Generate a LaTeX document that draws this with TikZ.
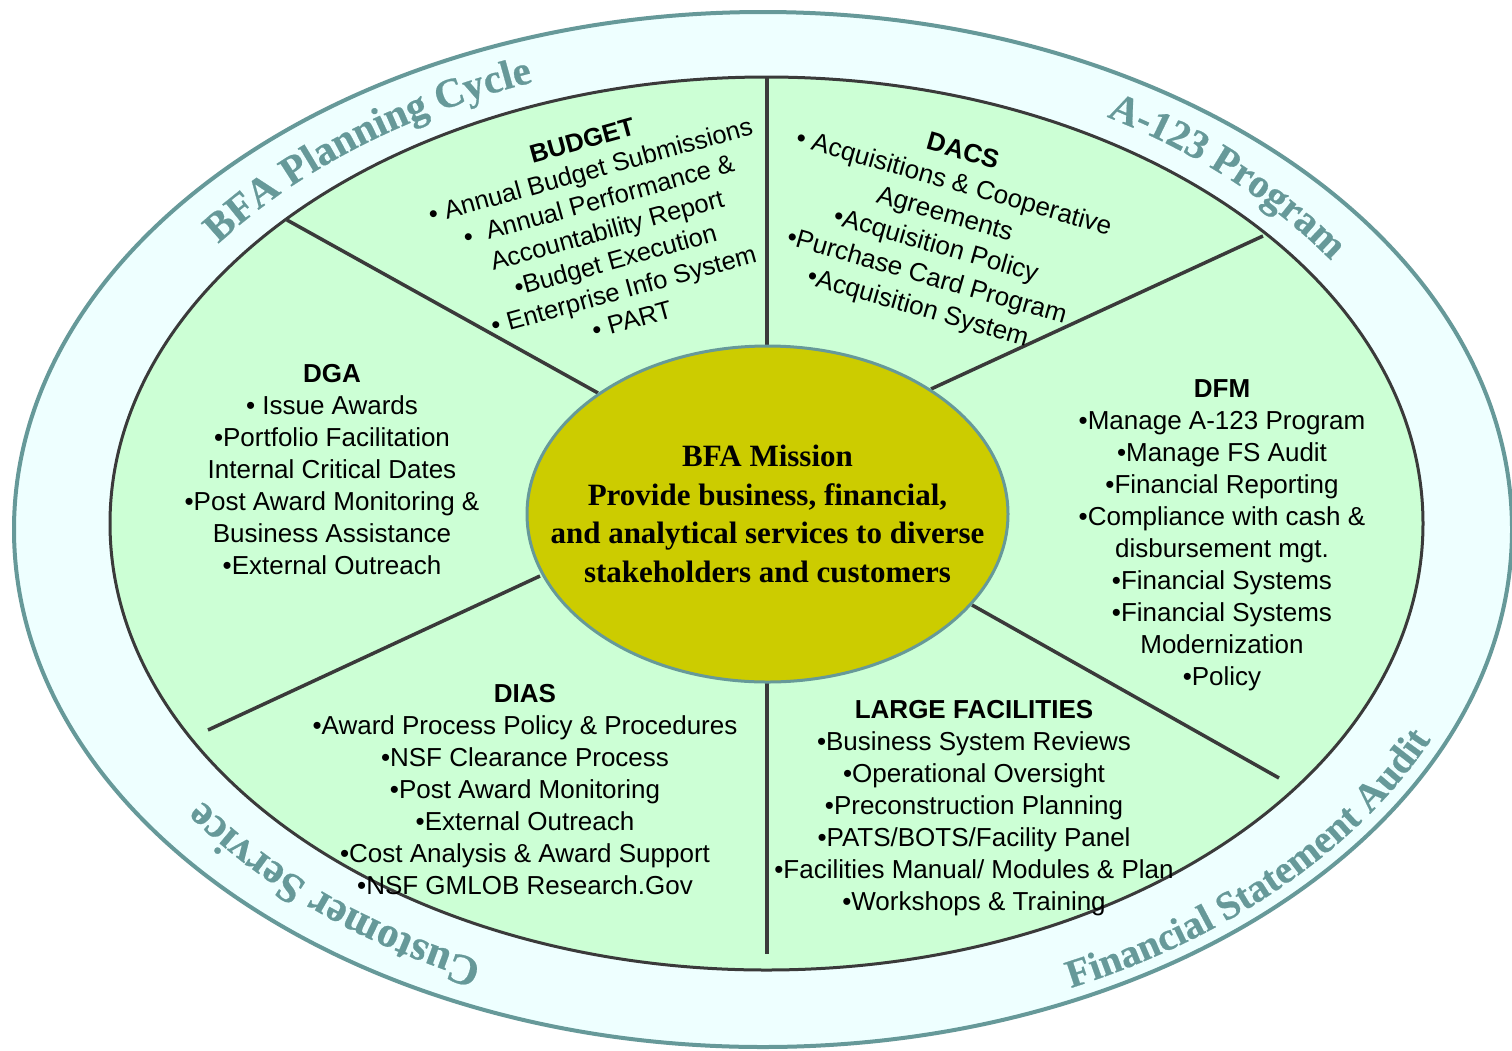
\documentclass[tikz,border=0pt]{standalone}
\usepackage{fontspec}
\setmainfont{Liberation Sans}
\newfontfamily\ringfont{Liberation Serif}[BoldFeatures={FakeBold=0.5}]
\newfontfamily\missionfont{Liberation Serif}
\usetikzlibrary{shapes.geometric,decorations.text}

\definecolor{ringteal}{HTML}{669999}
\definecolor{ringfill}{HTML}{EEFFFF}
\definecolor{sectorfill}{HTML}{CCFFD5}
\definecolor{rimgray}{HTML}{3A3A3A}
\definecolor{missionfill}{HTML}{CCCC00}

\tikzset{
  divider/.style={draw=rimgray, line width=3.5pt},
  unitblock/.style={align=center, inner sep=0pt, anchor=north,
    font=\fontsize{26}{32}\selectfont},
  ringlabel/.style 2 args={decorate, decoration={text along path, text align=center,
    text color=ringteal,
    text={|\ringfont\bfseries\fontsize{#1}{#1}\selectfont|#2}}},
}

\begin{document}
\begin{tikzpicture}[x=1pt,y=-1pt]
\useasboundingbox (0,0) rectangle (1512,1050);
\fill[white] (0,0) rectangle (1512,1050);
\clip (0,0) rectangle (1512,1050);

% outer ring and inner disc
\filldraw[fill=ringfill, draw=ringteal, line width=4pt]
  (763,529.5) ellipse [x radius=749, y radius=517.5];
\filldraw[fill=sectorfill, draw=rimgray, line width=3pt]
  (766.5,523.5) ellipse [x radius=656.5, y radius=446.5];

% sector dividers
\coordinate (d1a) at (287,220);  \coordinate (d1b) at (598,393);
\coordinate (d2a) at (1263,236); \coordinate (d2b) at (931,389);
\coordinate (d3a) at (1279,778); \coordinate (d3b) at (972,605);
\coordinate (d4a) at (208,730);  \coordinate (d4b) at (540,576);
\coordinate (v1a) at (767,77);   \coordinate (v1b) at (767,348);
\coordinate (v2a) at (767,682);  \coordinate (v2b) at (767,954);
\draw[divider] (d1a) -- (d1b);
\draw[divider] (d2a) -- (d2b);
\draw[divider] (d3a) -- (d3b);
\draw[divider] (d4a) -- (d4b);
\draw[divider] (v1a) -- (v1b);
\draw[divider] (v2a) -- (v2b);

% mission hub
\node[ellipse, draw=ringteal, fill=missionfill, line width=3pt,
      minimum width=481pt, minimum height=336pt, inner sep=0pt]
  (mission) at (767.5,514) {};
\node[font=\missionfont\bfseries\fontsize{31}{38.5}\selectfont,
      align=center, inner sep=0pt] (missiontext) at (mission.center)
  {BFA Mission\\Provide business, financial,\\and analytical services to diverse\\stakeholders and customers};

% ring labels
\path[shift={(766,524)}, ringlabel={41}{BFA Planning Cycle}]
  (200:682 and 470) arc[start angle=200, end angle=263, x radius=682, y radius=470];
\path[shift={(766,524)}, ringlabel={40.5}{A-123 Program}]
  (285:682 and 470) arc[start angle=285, end angle=345, x radius=682, y radius=470];
\path[shift={(766,524)}, ringlabel={43}{Customer Service}]
  (100:690 and 480) arc[start angle=100, end angle=163, x radius=690, y radius=480];
\path[shift={(766,526)}, ringlabel={39.5}{Financial Statement Audit}]
  (78:733 and 508) arc[start angle=78, end angle=8, x radius=733, y radius=508];

% sector contents
\node[unitblock, anchor=center, rotate=15.5, font=\fontsize{25.5}{31}\selectfont]
  (budget) at (607,230)
  {\textbf{BUDGET}\\• Annual Budget Submissions\\•\ \ Annual Performance \&\\Accountability Report\\•Budget Execution\\• Enterprise Info System\\• PART};

\node[unitblock, anchor=center, rotate=-16, font=\fontsize{26}{32.5}\selectfont]
  (dacs) at (940,231)
  {\textbf{DACS}\\• Acquisitions \& Cooperative\\Agreements\\•Acquisition Policy\\•Purchase Card Program\\•Acquisition System};

\node[unitblock] (dga) at (332,364.4)
  {\textbf{DGA}\\• Issue Awards\\•Portfolio Facilitation\\Internal Critical Dates\\•Post Award Monitoring \&\\Business Assistance\\•External Outreach};

\node[unitblock] (dfm) at (1222,379.4)
  {\textbf{DFM}\\•Manage A-123 Program\\•Manage FS Audit\\•Financial Reporting\\•Compliance with cash \&\\disbursement mgt.\\•Financial Systems\\•Financial Systems\\Modernization\\•Policy};

\node[unitblock] (dias) at (525,684.4)
  {\textbf{DIAS}\\•Award Process Policy \& Procedures\\•NSF Clearance Process\\•Post Award Monitoring\\•External Outreach\\•Cost Analysis \& Award Support\\•NSF GMLOB Research.Gov};

\node[unitblock] (largefac) at (974,700.4)
  {\textbf{LARGE FACILITIES}\\•Business System Reviews\\•Operational Oversight\\•Preconstruction Planning\\•PATS/BOTS/Facility Panel\\•Facilities Manual/ Modules \& Plan\\•Workshops \& Training};
\end{tikzpicture}
\end{document}
